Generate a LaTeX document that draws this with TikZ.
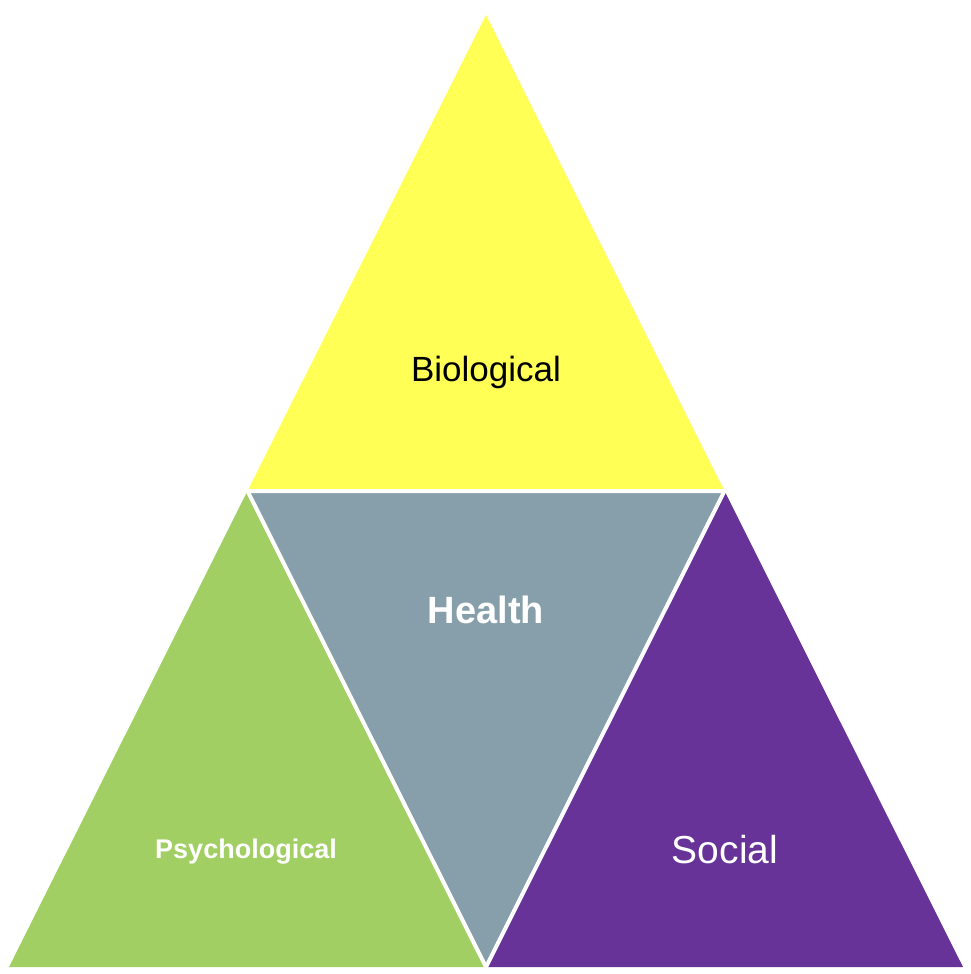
\documentclass[tikz,border=0pt]{standalone}
\usepackage{fontspec}
\setmainfont{Liberation Sans}
\usepackage{xcolor}
\usetikzlibrary{calc}
\definecolor{bioyellow}{HTML}{FFFF55}
\definecolor{healthgray}{HTML}{879FAA}
\definecolor{psygreen}{HTML}{A1CF63}
\definecolor{socpurple}{HTML}{673399}
\begin{document}
\begin{tikzpicture}[x=1pt,y=-1pt,
  lab/.style={align=center,inner sep=0pt},
  gap/.style={draw=white,line width=4pt,line join=miter}]
 \useasboundingbox (0,0) rectangle (970,974);
 \coordinate (top) at (486,15);
 \coordinate (bl)  at (9,967);
 \coordinate (br)  at (963,967);
 \coordinate (ml) at ($(top)!0.5!(bl)$);
 \coordinate (mr) at ($(top)!0.5!(br)$);
 \coordinate (mb) at ($(bl)!0.5!(br)$);
 \fill[bioyellow]  (top) -- (ml) -- (mr) -- cycle;
 \fill[psygreen]   (ml) -- (bl) -- (mb) -- cycle;
 \fill[socpurple]  (mr) -- (mb) -- (br) -- cycle;
 \fill[healthgray] (ml) -- (mr) -- (mb) -- cycle;
 \draw[gap] (ml) -- (mr) -- (mb) -- cycle;
 \node[lab,font=\fontsize{35}{40}\selectfont] (bio) at (486,372) {Biological};
 \node[lab,text=white,font=\fontsize{38}{44}\selectfont\bfseries] (health) at (486,610) {Health};
 \node[lab,text=white,font=\fontsize{27}{32}\selectfont\bfseries] (psy) at (246,852) {Psychological};
 \node[lab,text=white,font=\fontsize{39}{44}\selectfont] (soc) at (725,850) {Social};
\end{tikzpicture}
\end{document}
